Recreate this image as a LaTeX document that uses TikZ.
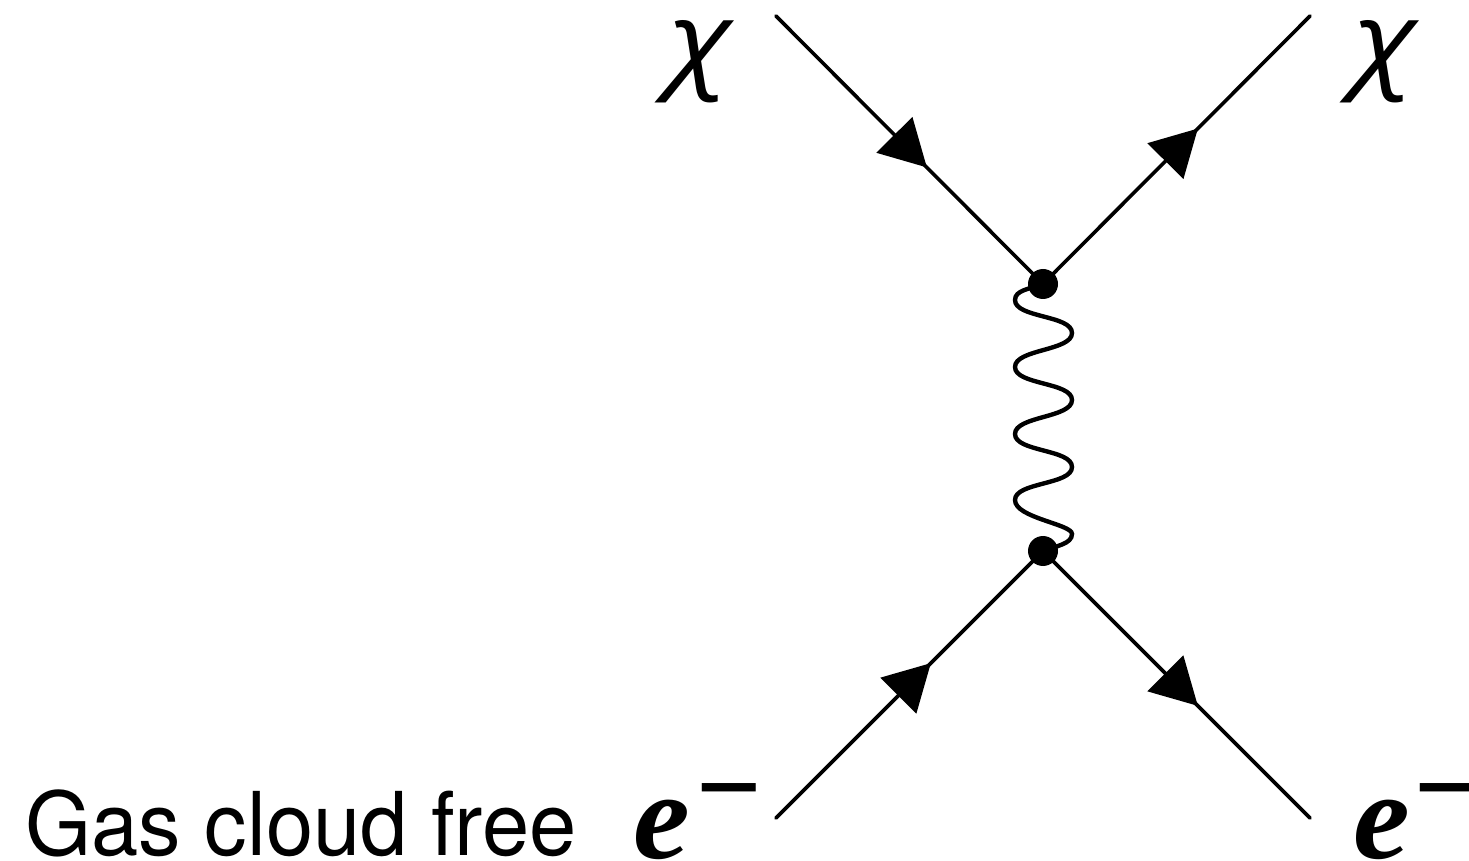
\documentclass[tikz,border=0pt]{standalone}
\usepackage{fontspec}
\setmainfont{TeX Gyre Heros}
\newfontfamily\symfont{Liberation Serif}
\newfontfamily\chifont{Open Sans}
\usetikzlibrary{arrows.meta,decorations.markings}
\tikzset{
  fermion/.style={line width=1.8pt,line cap=round,postaction={decorate},
    decoration={markings,mark=at position #1 with {\arrow{Triangle[length=23pt,width=25pt]}}}},
  vertexdot/.style={circle,fill=black,inner sep=0pt,minimum size=15pt},
  wavy/.style={line width=2.2pt,line cap=round},
  caption/.style={anchor=base west,inner sep=0pt,font=\fontsize{44}{44}\selectfont,xscale=0.965},
  particle/.style={anchor=base west,inner sep=0pt,font=\symfont\itshape\bfseries\fontsize{62}{62}\selectfont,xscale=1.03},
  chilabel/.style={anchor=base west,inner sep=0pt,font=\chifont\itshape\fontsize{53}{53}\selectfont,xscale=1.16},
  minusbar/.style={inner sep=0pt,anchor=center,font=\symfont\fontsize{84}{84}\selectfont,xscale=0.69}
}
\begin{document}
\begin{tikzpicture}[x=0.5pt,y=-0.5pt]
\useasboundingbox (0,0) rectangle (1469,861);
\fill[white] (0,0) rectangle (1469,861);
\coordinate (tl) at (776,16);
\coordinate (tr) at (1310,16);
\coordinate (bl) at (776,818);
\coordinate (br) at (1310,818);
\node[vertexdot] (vt) at (1043,284) {};
\node[vertexdot] (vb) at (1043,551) {};
\draw[fermion=0.565] (tl) -- (vt.center);
\draw[fermion=0.58] (vt.center) -- (tr);
\draw[fermion=0.58] (bl) -- (vb.center);
\draw[fermion=0.58] (vb.center) -- (br);
\draw[wavy] (vt.center) .. controls (1030,289) and (1015,290) .. (1015,300)
 .. controls (1015,318) and (1072,315) .. (1072,333)
 .. controls (1072,351) and (1015,349) .. (1015,367)
 .. controls (1015,385) and (1072,382) .. (1072,400)
 .. controls (1072,418) and (1015,416) .. (1015,434)
 .. controls (1015,452) and (1072,449) .. (1072,467)
 .. controls (1072,485) and (1015,482) .. (1015,500)
 .. controls (1015,518) and (1072,524) .. (1072,534)
 .. controls (1072,544) and (1056,546) .. (vb.center);
\node[chilabel] (chi1) at (668,78) {χ};
\node[chilabel] (chi2) at (1353,78) {χ};
\node[particle] (e1) at (633,858) {e};
\node[particle] (e2) at (1353,858) {e};
\node[minusbar] (m1) at (729,814) {−};
\node[minusbar] (m2) at (1447,814) {−};
\node[caption] (gas) at (25,855) {Gas cloud free};
\end{tikzpicture}
\end{document}
